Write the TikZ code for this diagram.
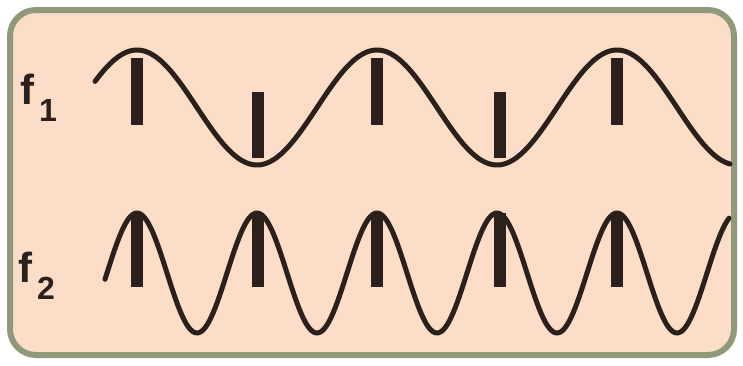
\documentclass[tikz,border=0pt]{standalone}
\usepackage{fontspec}
\setmainfont{Liberation Sans}
\definecolor{ink}{HTML}{2B201C}
\definecolor{peach}{HTML}{FBDDC8}
\definecolor{sage}{HTML}{8E9A7A}
\tikzstyle{frame} = [
    rounded corners=26pt,
    line width=6pt,
    draw=sage,
    fill=peach
]
\tikzstyle{wave} = [
    line width=5pt,
    draw=ink,
    line cap=round,
    line join=round
]
\tikzstyle{bar} = [line width=12pt, draw=ink]
\tikzstyle{flabel} = [
    font=\bfseries\fontsize{42}{42}\selectfont,
    text=ink,
    inner sep=0pt
]
\newcommand{\fsub}[1]{\raisebox{-0.42em}{\fontsize{32}{32}\selectfont #1}}

\begin{document}
\begin{tikzpicture}[x=1pt,y=-1pt]
\useasboundingbox (0,0) rectangle (743,365);

\draw [frame] (10,10) rectangle (734,355);

% slow wave
\draw [wave] plot[domain=95:730, samples=220]
    (\x, {107.5-57.5*cos((\x-137)*1.5)});

% fast wave
\draw [wave] plot[domain=105:729, samples=300]
    (\x, {273-60*cos((\x-137)*3)});

% bars on the slow wave
\foreach \xx in {137, 377, 617}
    \draw [bar] (\xx,58) -- (\xx,125);
\foreach \xx in {258, 500}
    \draw [bar] (\xx,92) -- (\xx,158);

% bars on the fast wave
\foreach \xx in {137, 258, 377, 500, 617}
    \draw [bar] (\xx,213) -- (\xx,287);

\node (lab1) [flabel, anchor=base west] at (20,104) {f\hspace{5pt}\fsub{1}};
\node (lab2) [flabel, anchor=base west] at (18,282) {f\hspace{5pt}\fsub{2}};

\end{tikzpicture}
\end{document}
